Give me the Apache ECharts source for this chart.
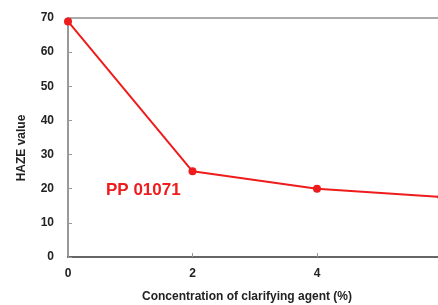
<!DOCTYPE html>
<html>
<head>
<meta charset="utf-8">
<script src="https://cdn.jsdelivr.net/npm/echarts@6/dist/echarts.min.js"></script>
<style>
  html, body { margin: 0; padding: 0; background: #fff; overflow: hidden; }
</style>
</head>
<body>
<!-- the reference is a crop of a wider chart, so the canvas is wider than the window -->
<div id="main" style="width: 600px;height:305px;"></div>
<script type="text/javascript">
    // data
    var concentration = [0, 2, 4, 6];
    var haze = [69, 25.1, 20, 17.6];
    var xTicks = [0, 2, 4, 6, 8];
    var yTicks = [0, 10, 20, 30, 40, 50, 60, 70];
    var seriesLabel = 'PP 01071';

    var points = concentration.map(function (c, i) { return [c, haze[i]]; });

    var myChart = echarts.init(document.getElementById('main'));
    var font = 'Liberation Sans, Arial, sans-serif';
    var option = {
        animation: false,
        grid: {
            left: 68, top: 18, width: 498, height: 239,
            show: true, borderColor: '#aaa', borderWidth: 2
        },
        xAxis: {
            type: 'value',
            min: xTicks[0], max: xTicks[xTicks.length - 1], interval: 2,
            splitLine: { show: false },
            axisLine: { lineStyle: { color: '#666', width: 2 } },
            axisTick: { inside: true, length: 4, lineStyle: { color: '#999' } },
            axisLabel: { color: '#222', fontWeight: 'bold', fontSize: 12, fontFamily: font, margin: 11 }
        },
        yAxis: {
            type: 'value',
            min: yTicks[0], max: yTicks[yTicks.length - 1], interval: 10,
            splitLine: { show: false },
            axisLine: { show: true, lineStyle: { color: '#999', width: 2 } },
            axisTick: { show: true, inside: true, length: 4, lineStyle: { color: '#999' } },
            axisLabel: { color: '#222', fontWeight: 'bold', fontSize: 12, fontFamily: font, margin: 14 }
        },
        graphic: [
            {
                type: 'text', left: 106, top: 182,
                style: { text: seriesLabel, fill: '#ee1c1c', font: 'bold 17px ' + font }
            },
            {
                type: 'text', x: 247, y: 297,
                style: { text: 'Concentration of clarifying agent (%)', fill: '#222',
                         font: 'bold 12px ' + font, align: 'center', verticalAlign: 'middle' }
            },
            {
                type: 'text', x: 22, y: 148, rotation: Math.PI / 2,
                style: { text: 'HAZE value', fill: '#222',
                         font: 'bold 12px ' + font, align: 'center', verticalAlign: 'middle' }
            }
        ],
        series: [{
            name: seriesLabel,
            type: 'line',
            data: points,
            symbol: 'circle',
            symbolSize: 8,
            itemStyle: { color: '#ee1c1c' },
            lineStyle: { color: '#ee1c1c', width: 2 }
        }]
    };
    myChart.setOption(option);
</script>
</body>
</html>
